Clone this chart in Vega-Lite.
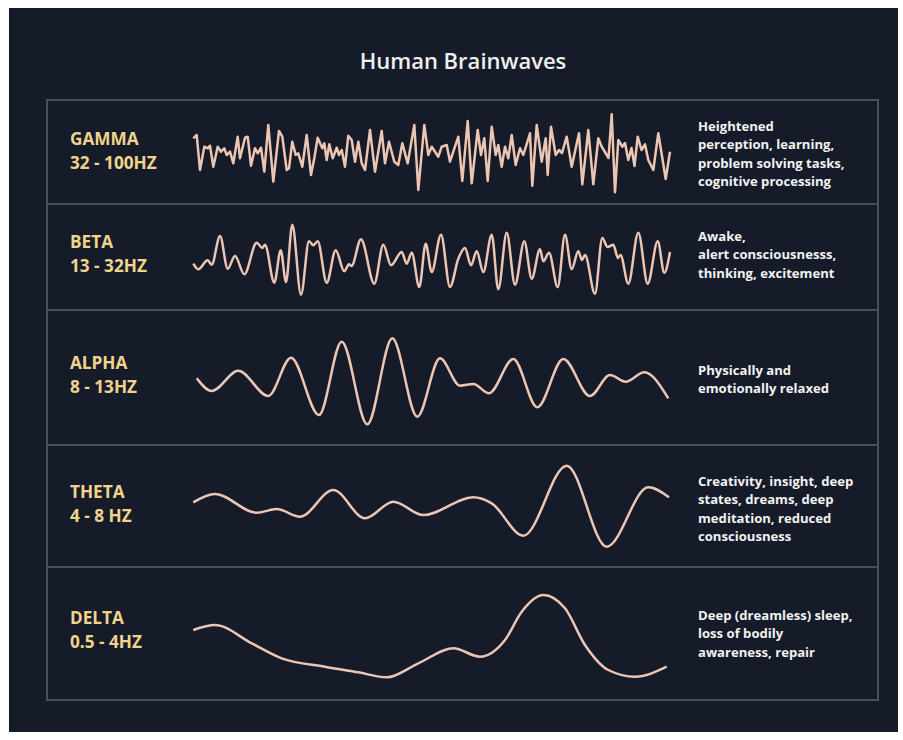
{
"$schema": "https://vega.github.io/schema/vega-lite/v6.json",
"background": "#ffffff",
"padding": {"left": 9, "top": 8, "right": 5, "bottom": 8},
"bounds": "flush",
"spacing": 0,
"config": {"view": {"fill": "#161b2a", "stroke": null}, "axis": {"disable": true}, "font": "Open Sans"},
"datasets": {
"gamma": [{"t":0.3,"v":13.7},{"t":3.7,"v":17},{"t":7,"v":-18},{"t":11.3,"v":5.3},{"t":14.7,"v":3.7},{"t":17,"v":6.3},{"t":20.3,"v":-14.7},{"t":24.7,"v":5.3},{"t":28,"v":0.3},{"t":31.3,"v":3.7},{"t":33.7,"v":-3},{"t":37,"v":0.3},{"t":40.3,"v":-11.3},{"t":44.7,"v":15.3},{"t":47,"v":-6.3},{"t":52,"v":14.3},{"t":54.7,"v":15.3},{"t":58,"v":-13.7},{"t":62,"v":3.7},{"t":64.7,"v":-1.3},{"t":68,"v":4.3},{"t":71.3,"v":-19.7},{"t":75.3,"v":27},{"t":80.3,"v":-29.7},{"t":86,"v":21},{"t":89.3,"v":15.3},{"t":93.7,"v":-18},{"t":96,"v":-16.3},{"t":99.3,"v":10.3},{"t":102.7,"v":-3},{"t":105.3,"v":-1.3},{"t":109.3,"v":-14.7},{"t":113.7,"v":17},{"t":118,"v":-23},{"t":121.3,"v":-6.3},{"t":124.7,"v":14.3},{"t":129.3,"v":3.7},{"t":131.3,"v":8.7},{"t":133.7,"v":-8},{"t":136.3,"v":7.7},{"t":139.7,"v":-6.3},{"t":143.7,"v":4.3},{"t":146,"v":-3},{"t":148.7,"v":2},{"t":152,"v":-14.7},{"t":155.3,"v":16.3},{"t":158.7,"v":12},{"t":162,"v":-9.7},{"t":165.3,"v":10.3},{"t":168.7,"v":-11.3},{"t":172,"v":-18},{"t":177,"v":22},{"t":182,"v":-19.7},{"t":188.7,"v":21},{"t":192,"v":-11.3},{"t":196,"v":10.3},{"t":201.3,"v":-9.7},{"t":205.3,"v":-13},{"t":209.3,"v":8.7},{"t":214.7,"v":-11.3},{"t":221.3,"v":27},{"t":225.3,"v":-38},{"t":231.3,"v":27},{"t":235.3,"v":-3},{"t":238.7,"v":5.3},{"t":245.3,"v":-4.7},{"t":248.7,"v":5.3},{"t":253.7,"v":7},{"t":257,"v":-9.7},{"t":265.3,"v":15.3},{"t":269.3,"v":-29},{"t":274.7,"v":31},{"t":278.7,"v":-31.3},{"t":284.7,"v":22},{"t":288,"v":-3},{"t":291.3,"v":13.7},{"t":294.7,"v":-29},{"t":298.7,"v":25.3},{"t":302.7,"v":-3},{"t":305.3,"v":7},{"t":308.7,"v":-14.7},{"t":312,"v":5.3},{"t":315.3,"v":-6.3},{"t":318.7,"v":17},{"t":322.7,"v":-13},{"t":327,"v":3.7},{"t":330.3,"v":-3},{"t":337,"v":18.7},{"t":339.3,"v":-33.7},{"t":343.7,"v":27},{"t":348.7,"v":-9.7},{"t":352.7,"v":13.7},{"t":354.7,"v":-23},{"t":358,"v":25.3},{"t":362.7,"v":-3},{"t":366,"v":2},{"t":369,"v":-1},{"t":373.7,"v":15.3},{"t":378.7,"v":-14.7},{"t":386,"v":18.7},{"t":389.3,"v":-32.3},{"t":395.3,"v":22},{"t":400.3,"v":-32.3},{"t":405.3,"v":13.7},{"t":408.7,"v":5.3},{"t":413.7,"v":-3},{"t":415.5,"v":-6},{"t":418.7,"v":37.7},{"t":422,"v":-40.3},{"t":425.3,"v":12},{"t":429.3,"v":5.3},{"t":432,"v":9},{"t":435.3,"v":-8},{"t":438.5,"v":4},{"t":441.5,"v":-14},{"t":444.7,"v":15.3},{"t":448.5,"v":2},{"t":452,"v":7.7},{"t":455.3,"v":-8},{"t":460.3,"v":-18},{"t":465.3,"v":18.7},{"t":472.7,"v":-27},{"t":477,"v":0.3}],
"beta": [{"t":0.3,"v":-6.7},{"t":5.3,"v":-12.3},{"t":14.7,"v":-3.3},{"t":18.7,"v":-7.7},{"t":27,"v":21},{"t":34.7,"v":-11.7},{"t":42,"v":1},{"t":51.3,"v":-17.3},{"t":63.7,"v":14.3},{"t":69.3,"v":9},{"t":72,"v":12.3},{"t":81.3,"v":-25.7},{"t":87.7,"v":6.7},{"t":93,"v":-25},{"t":99.3,"v":32.3},{"t":108,"v":-37.7},{"t":116,"v":15.7},{"t":120.3,"v":11.7},{"t":124.7,"v":15.7},{"t":133.7,"v":-25.7},{"t":142.7,"v":6.7},{"t":151.3,"v":-14.3},{"t":156,"v":-7.3},{"t":158.5,"v":-9},{"t":168,"v":17.7},{"t":181.3,"v":-26.7},{"t":190.3,"v":12.3},{"t":198,"v":-8.3},{"t":208.7,"v":5},{"t":213.7,"v":-6.7},{"t":218.7,"v":4.3},{"t":226.3,"v":-30},{"t":232.7,"v":13.3},{"t":238.7,"v":-15},{"t":248,"v":22.3},{"t":257,"v":-30},{"t":265.3,"v":-1.7},{"t":272,"v":9},{"t":278,"v":-8.3},{"t":283.7,"v":5.7},{"t":290.3,"v":-15},{"t":298.7,"v":22.3},{"t":305.3,"v":-32.3},{"t":313.7,"v":24.3},{"t":322,"v":-27.7},{"t":331.3,"v":15.7},{"t":338.7,"v":-21.7},{"t":347,"v":7.7},{"t":350.3,"v":-4.3},{"t":356,"v":4.3},{"t":364.7,"v":-30},{"t":372,"v":22.3},{"t":378.7,"v":-12.3},{"t":385.3,"v":5.7},{"t":389,"v":-3},{"t":392,"v":2},{"t":402,"v":-36.7},{"t":409.3,"v":19},{"t":414.5,"v":10},{"t":420.3,"v":12.3},{"t":425,"v":-1},{"t":427.5,"v":2},{"t":435.3,"v":-26.7},{"t":445.3,"v":24.3},{"t":454.7,"v":-26.7},{"t":464.7,"v":15.7},{"t":471.3,"v":-15.7},{"t":477,"v":5}],
"alpha": [{"t":3.7,"v":-0.8},{"t":18.7,"v":-13.5},{"t":45.3,"v":6.8},{"t":75.3,"v":-18.5},{"t":98,"v":19.8},{"t":126,"v":-37.5},{"t":148.7,"v":35.8},{"t":174.3,"v":-46.8},{"t":199.3,"v":39.2},{"t":224.3,"v":-39.2},{"t":247,"v":19.2},{"t":267,"v":-8.2},{"t":280.3,"v":-6.5},{"t":296,"v":-15.8},{"t":320.3,"v":18.5},{"t":344.3,"v":-29.8},{"t":370.3,"v":18.5},{"t":397,"v":-18.5},{"t":417,"v":2.5},{"t":432.7,"v":-4.2},{"t":451.3,"v":5.2},{"t":475.3,"v":-20.8}],
"theta": [{"t":0.3,"v":3.7},{"t":22,"v":12},{"t":63.7,"v":-6.7},{"t":83.7,"v":-3},{"t":107,"v":-10.7},{"t":140.3,"v":16},{"t":172,"v":-12.3},{"t":200.3,"v":4.3},{"t":230.3,"v":-9},{"t":280.3,"v":8.7},{"t":298.7,"v":2.7},{"t":330.3,"v":-29.7},{"t":373.7,"v":40.3},{"t":413.7,"v":-40.7},{"t":455.3,"v":18.7},{"t":476,"v":8.7}],
"delta": [{"t":0.3,"v":3.5},{"t":22,"v":8.5},{"t":58.7,"v":-9.8},{"t":88.7,"v":-24.8},{"t":132,"v":-33.2},{"t":165.3,"v":-38.8},{"t":193.7,"v":-43.8},{"t":225.3,"v":-29.8},{"t":260.3,"v":-14.8},{"t":287,"v":-23.2},{"t":312,"v":-6.5},{"t":328.7,"v":21.8},{"t":350.3,"v":38.5},{"t":372,"v":25.2},{"t":392,"v":-11.5},{"t":415.3,"v":-36.5},{"t":442,"v":-43.2},{"t":473.7,"v":-33.2}]
},
"vconcat": [
{
"width": 889, "height": 196,
"layer": [
{"data": {"values": [{}]}, "mark": {"type": "rect", "fill": "transparent", "stroke": "#4a4f5d", "strokeWidth": 2},
 "encoding": {"x": {"datum": -146, "type": "quantitative", "scale": {"domain": [-184, 705], "nice": false, "zero": false}}, "x2": {"datum": 685}, "y": {"datum": -52, "type": "quantitative", "scale": {"domain": [-52, 144], "nice": false, "zero": false}}, "y2": {"datum": 52}}},
{"data": {"name": "gamma"}, "mark": {"type": "line", "color": "#ecc6b3", "strokeWidth": 2.5, "interpolate": "linear", "strokeJoin": "round"},
 "encoding": {"x": {"field": "t", "type": "quantitative", "scale": {"domain": [-184, 705], "nice": false, "zero": false}}, "y": {"field": "v", "type": "quantitative", "scale": {"domain": [-52, 144], "nice": false, "zero": false}}}},
{"data": {"values": [{"label": "GAMMA\n32 - 100HZ"}]}, "mark": {"type": "text", "align": "left", "baseline": "middle", "lineBreak": "\n", "lineHeight": 24.5, "fontSize": 17.2, "fontWeight": "bold", "color": "#f0d48c"},
 "encoding": {"x": {"datum": -123, "type": "quantitative", "scale": {"domain": [-184, 705], "nice": false, "zero": false}}, "y": {"datum": 12.5, "type": "quantitative", "scale": {"domain": [-52, 144], "nice": false, "zero": false}}, "text": {"field": "label"}}},
{"data": {"values": [{"desc": "Heightened\nperception, learning,\nproblem solving tasks,\ncognitive processing"}]}, "mark": {"type": "text", "align": "left", "baseline": "middle", "lineBreak": "\n", "lineHeight": 18.5, "fontSize": 13.1, "fontWeight": "bold", "color": "#f2f2f2"},
 "encoding": {"x": {"datum": 505, "type": "quantitative", "scale": {"domain": [-184, 705], "nice": false, "zero": false}}, "y": {"datum": 25.5, "type": "quantitative", "scale": {"domain": [-52, 144], "nice": false, "zero": false}}, "text": {"field": "desc"}}},
{"data": {"values": [{"title": "Human Brainwaves"}]}, "mark": {"type": "text", "align": "center", "baseline": "middle", "fontSize": 22, "fontWeight": 600, "color": "#eeeeee"},
 "encoding": {"x": {"datum": 270, "type": "quantitative", "scale": {"domain": [-184, 705], "nice": false, "zero": false}}, "y": {"datum": 90, "type": "quantitative", "scale": {"domain": [-52, 144], "nice": false, "zero": false}}, "text": {"field": "title"}}}
]
},
{
"width": 889, "height": 106,
"layer": [
{"data": {"values": [{}]}, "mark": {"type": "rect", "fill": "transparent", "stroke": "#4a4f5d", "strokeWidth": 2},
 "encoding": {"x": {"datum": -146, "type": "quantitative", "scale": {"domain": [-184, 705], "nice": false, "zero": false}}, "x2": {"datum": 685}, "y": {"datum": -53, "type": "quantitative", "scale": {"domain": [-53, 53], "nice": false, "zero": false}}, "y2": {"datum": 53}}},
{"data": {"name": "beta"}, "mark": {"type": "line", "color": "#ecc6b3", "strokeWidth": 2.5, "interpolate": "monotone"},
 "encoding": {"x": {"field": "t", "type": "quantitative", "scale": {"domain": [-184, 705], "nice": false, "zero": false}}, "y": {"field": "v", "type": "quantitative", "scale": {"domain": [-53, 53], "nice": false, "zero": false}}}},
{"data": {"values": [{"label": "BETA\n13 - 32HZ"}]}, "mark": {"type": "text", "align": "left", "baseline": "middle", "lineBreak": "\n", "lineHeight": 24.5, "fontSize": 17.2, "fontWeight": "bold", "color": "#f0d48c"},
 "encoding": {"x": {"datum": -123, "type": "quantitative", "scale": {"domain": [-184, 705], "nice": false, "zero": false}}, "y": {"datum": 14.5, "type": "quantitative", "scale": {"domain": [-53, 53], "nice": false, "zero": false}}, "text": {"field": "label"}}},
{"data": {"values": [{"desc": "Awake,\nalert consciousnesss,\nthinking, excitement"}]}, "mark": {"type": "text", "align": "left", "baseline": "middle", "lineBreak": "\n", "lineHeight": 18.5, "fontSize": 13.1, "fontWeight": "bold", "color": "#f2f2f2"},
 "encoding": {"x": {"datum": 505, "type": "quantitative", "scale": {"domain": [-184, 705], "nice": false, "zero": false}}, "y": {"datum": 20.5, "type": "quantitative", "scale": {"domain": [-53, 53], "nice": false, "zero": false}}, "text": {"field": "desc"}}}
]
},
{
"width": 889, "height": 135,
"layer": [
{"data": {"values": [{}]}, "mark": {"type": "rect", "fill": "transparent", "stroke": "#4a4f5d", "strokeWidth": 2},
 "encoding": {"x": {"datum": -146, "type": "quantitative", "scale": {"domain": [-184, 705], "nice": false, "zero": false}}, "x2": {"datum": 685}, "y": {"datum": -67.5, "type": "quantitative", "scale": {"domain": [-67.5, 67.5], "nice": false, "zero": false}}, "y2": {"datum": 67.5}}},
{"data": {"name": "alpha"}, "mark": {"type": "line", "color": "#ecc6b3", "strokeWidth": 2.5, "interpolate": "monotone"},
 "encoding": {"x": {"field": "t", "type": "quantitative", "scale": {"domain": [-184, 705], "nice": false, "zero": false}}, "y": {"field": "v", "type": "quantitative", "scale": {"domain": [-67.5, 67.5], "nice": false, "zero": false}}}},
{"data": {"values": [{"label": "ALPHA\n8 - 13HZ"}]}, "mark": {"type": "text", "align": "left", "baseline": "middle", "lineBreak": "\n", "lineHeight": 24.5, "fontSize": 17.2, "fontWeight": "bold", "color": "#f0d48c"},
 "encoding": {"x": {"datum": -123, "type": "quantitative", "scale": {"domain": [-184, 705], "nice": false, "zero": false}}, "y": {"datum": 14, "type": "quantitative", "scale": {"domain": [-67.5, 67.5], "nice": false, "zero": false}}, "text": {"field": "label"}}},
{"data": {"values": [{"desc": "Physically and\nemotionally relaxed"}]}, "mark": {"type": "text", "align": "left", "baseline": "middle", "lineBreak": "\n", "lineHeight": 18.5, "fontSize": 13.1, "fontWeight": "bold", "color": "#f2f2f2"},
 "encoding": {"x": {"datum": 505, "type": "quantitative", "scale": {"domain": [-184, 705], "nice": false, "zero": false}}, "y": {"datum": 7, "type": "quantitative", "scale": {"domain": [-67.5, 67.5], "nice": false, "zero": false}}, "text": {"field": "desc"}}}
]
},
{
"width": 889, "height": 122,
"layer": [
{"data": {"values": [{}]}, "mark": {"type": "rect", "fill": "transparent", "stroke": "#4a4f5d", "strokeWidth": 2},
 "encoding": {"x": {"datum": -146, "type": "quantitative", "scale": {"domain": [-184, 705], "nice": false, "zero": false}}, "x2": {"datum": 685}, "y": {"datum": -61, "type": "quantitative", "scale": {"domain": [-61, 61], "nice": false, "zero": false}}, "y2": {"datum": 61}}},
{"data": {"name": "theta"}, "mark": {"type": "line", "color": "#ecc6b3", "strokeWidth": 2.5, "interpolate": "monotone"},
 "encoding": {"x": {"field": "t", "type": "quantitative", "scale": {"domain": [-184, 705], "nice": false, "zero": false}}, "y": {"field": "v", "type": "quantitative", "scale": {"domain": [-61, 61], "nice": false, "zero": false}}}},
{"data": {"values": [{"label": "THETA\n4 - 8 HZ"}]}, "mark": {"type": "text", "align": "left", "baseline": "middle", "lineBreak": "\n", "lineHeight": 24.5, "fontSize": 17.2, "fontWeight": "bold", "color": "#f0d48c"},
 "encoding": {"x": {"datum": -123, "type": "quantitative", "scale": {"domain": [-184, 705], "nice": false, "zero": false}}, "y": {"datum": 13.5, "type": "quantitative", "scale": {"domain": [-61, 61], "nice": false, "zero": false}}, "text": {"field": "label"}}},
{"data": {"values": [{"desc": "Creativity, insight, deep\nstates, dreams, deep\nmeditation, reduced\nconsciousness"}]}, "mark": {"type": "text", "align": "left", "baseline": "middle", "lineBreak": "\n", "lineHeight": 18.5, "fontSize": 13.1, "fontWeight": "bold", "color": "#f2f2f2"},
 "encoding": {"x": {"datum": 505, "type": "quantitative", "scale": {"domain": [-184, 705], "nice": false, "zero": false}}, "y": {"datum": 24.5, "type": "quantitative", "scale": {"domain": [-61, 61], "nice": false, "zero": false}}, "text": {"field": "desc"}}}
]
},
{
"width": 889, "height": 165,
"layer": [
{"data": {"values": [{}]}, "mark": {"type": "rect", "fill": "transparent", "stroke": "#4a4f5d", "strokeWidth": 2},
 "encoding": {"x": {"datum": -146, "type": "quantitative", "scale": {"domain": [-184, 705], "nice": false, "zero": false}}, "x2": {"datum": 685}, "y": {"datum": -66.5, "type": "quantitative", "scale": {"domain": [-98.5, 66.5], "nice": false, "zero": false}}, "y2": {"datum": 66.5}}},
{"data": {"name": "delta"}, "mark": {"type": "line", "color": "#ecc6b3", "strokeWidth": 2.5, "interpolate": "monotone"},
 "encoding": {"x": {"field": "t", "type": "quantitative", "scale": {"domain": [-184, 705], "nice": false, "zero": false}}, "y": {"field": "v", "type": "quantitative", "scale": {"domain": [-98.5, 66.5], "nice": false, "zero": false}}}},
{"data": {"values": [{"label": "DELTA\n0.5 - 4HZ"}]}, "mark": {"type": "text", "align": "left", "baseline": "middle", "lineBreak": "\n", "lineHeight": 24.5, "fontSize": 17.2, "fontWeight": "bold", "color": "#f0d48c"},
 "encoding": {"x": {"datum": -123, "type": "quantitative", "scale": {"domain": [-184, 705], "nice": false, "zero": false}}, "y": {"datum": 15, "type": "quantitative", "scale": {"domain": [-98.5, 66.5], "nice": false, "zero": false}}, "text": {"field": "label"}}},
{"data": {"values": [{"desc": "Deep (dreamless) sleep,\nloss of bodily\nawareness, repair"}]}, "mark": {"type": "text", "align": "left", "baseline": "middle", "lineBreak": "\n", "lineHeight": 18.5, "fontSize": 13.1, "fontWeight": "bold", "color": "#f2f2f2"},
 "encoding": {"x": {"datum": 505, "type": "quantitative", "scale": {"domain": [-184, 705], "nice": false, "zero": false}}, "y": {"datum": 18, "type": "quantitative", "scale": {"domain": [-98.5, 66.5], "nice": false, "zero": false}}, "text": {"field": "desc"}}}
]
}
]
}
